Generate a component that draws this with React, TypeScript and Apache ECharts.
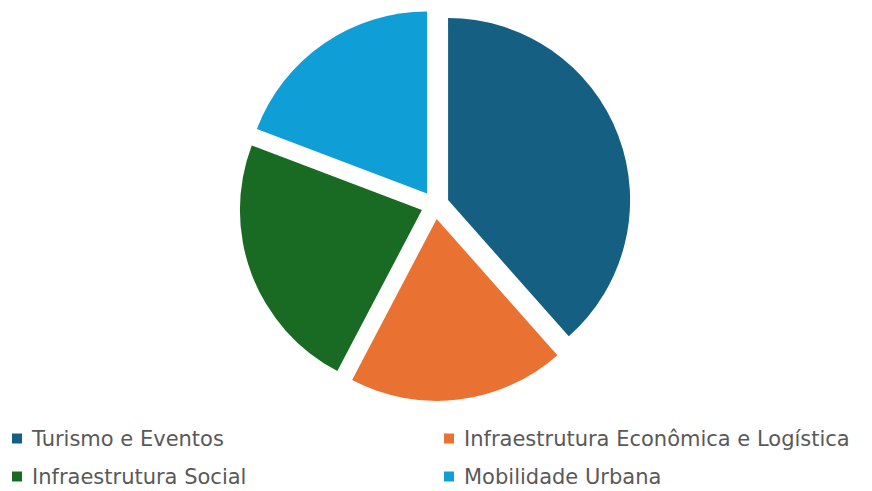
import React, { useEffect, useRef } from "react";
import * as echarts from "echarts";

const categories = [
  "Turismo e Eventos",
  "Infraestrutura Econômica e Logística",
  "Infraestrutura Social",
  "Mobilidade Urbana",
];
const values = [10, 5, 6, 5];
const colors = ["#156082", "#E97132", "#196B24", "#0F9ED5"];
const leftLegend = [categories[0], categories[2]];
const rightLegend = [categories[1], categories[3]];

export default function App() {
  const ref = useRef<HTMLDivElement>(null);
  useEffect(() => {
    if (!ref.current) return;
    const chart = echarts.init(ref.current, undefined, { renderer: "svg" });
    const legendCommon = {
      orient: "vertical",
      top: 428,
      height: 80,
      padding: 0,
      itemWidth: 10,
      itemHeight: 10,
      itemGap: 17,
      icon: "rect",
      selectedMode: false,
      textStyle: {
        fontFamily: "DejaVu Sans",
        fontSize: 21,
        color: "#595959",
        lineHeight: 21,
        padding: [0, 0, 0, 5],
      },
    };
    chart.setOption({
      animation: false,
      backgroundColor: "#ffffff",
      legend: [
        { ...legendCommon, left: 12, data: leftLegend },
        { ...legendCommon, left: 444, data: rightLegend },
      ],
      series: [
        {
          type: "pie",
          center: [435, 205],
          radius: [0, 182],
          startAngle: 90,
          clockwise: true,
          selectedMode: "multiple",
          selectedOffset: 14,
          label: { show: false },
          labelLine: { show: false },
          emphasis: { disabled: true },
          data: categories.map((name, i) => ({
            name,
            value: values[i],
            selected: true,
            itemStyle: { color: colors[i] },
            select: { itemStyle: { color: colors[i] } },
          })),
        },
      ],
    });
    return () => chart.dispose();
  }, []);
  return (
    <div
      ref={ref}
      style={{ position: "fixed", left: 0, top: 0, width: 872, height: 491 }}
    />
  );
}
